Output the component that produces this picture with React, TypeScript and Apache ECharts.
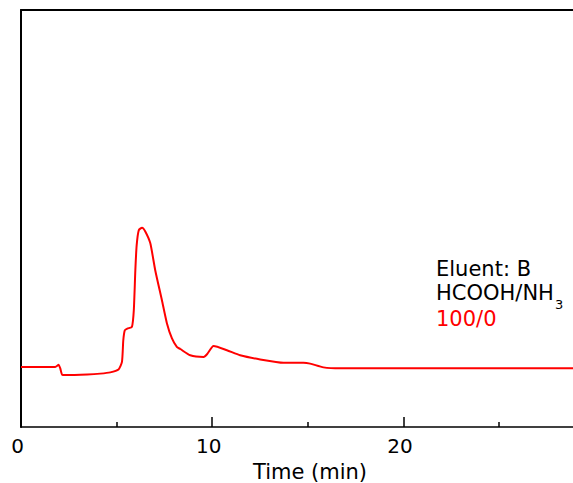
import React, { useEffect, useRef } from "react";
import * as echarts from "echarts";

const times = [0, 1.79, 1.97, 2.05, 2.16, 2.32, 3.47, 4.15, 4.67, 5.1, 5.28, 5.35, 5.43, 5.56, 5.8, 5.9, 5.98, 6.05, 6.16, 6.33, 6.5, 6.76, 7.02, 7.37, 7.63, 7.89, 8.15, 8.33, 8.85, 9.55, 9.74, 10.07, 10.77, 11.46, 12.51, 13.73, 14.77, 15.12, 15.82, 16.69, 19.83, 28.87];
const signal = [14.4, 14.4, 14.9, 14.1, 12.5, 12.46, 12.6, 12.8, 13.1, 13.8, 15.6, 20.8, 23.2, 23.6, 24.0, 28.0, 37.6, 43.6, 47.2, 47.8, 46.9, 44.1, 37.6, 30.4, 24.9, 21.3, 19.2, 18.7, 17.2, 16.8, 17.5, 19.4, 18.4, 17.2, 16.2, 15.4, 15.4, 15.2, 14.3, 14.06, 14.06, 14.06];
const majorTicks = [0, 10, 20];
const minorTicks = [5, 15, 25];
const xMax = 28.87;
const xTitle = "Time (min)";
const legendLines = ["Eluent: B", "HCOOH/NH", "3", "100/0"];

const FONT = "DejaVu Sans";

export default function App() {
  const ref = useRef<HTMLDivElement>(null);
  useEffect(() => {
    if (!ref.current) return;
    const chart = echarts.init(ref.current, null, { renderer: "svg" });
    const data = times.map((t, i) => [t, signal[i]]);
    chart.setOption({
      animation: false,
      backgroundColor: "#fff",
      grid: { left: 21, top: 10, right: 0, bottom: 56, outerBoundsMode: "none" },
      xAxis: [
        {
          type: "value", min: 0, max: xMax, position: "bottom",
          axisLine: { show: true, onZero: false, lineStyle: { color: "#000", width: 1.5 } },
          axisTick: { show: true, inside: true, length: 10, customValues: majorTicks, lineStyle: { color: "#000", width: 1.5 } },
          axisLabel: { show: true, customValues: majorTicks, fontSize: 20, fontFamily: FONT, color: "#000", margin: 9, padding: [0, 7, 0, 0] },
          splitLine: { show: false },
        },
        {
          type: "value", min: 0, max: xMax, position: "bottom",
          axisLine: { show: false, onZero: false },
          axisTick: { show: true, inside: true, length: 5, customValues: minorTicks, lineStyle: { color: "#000", width: 1.5 } },
          axisLabel: { show: false },
          splitLine: { show: false },
        },
        {
          type: "value", min: 0, max: xMax, position: "top",
          axisLine: { show: true, onZero: false, lineStyle: { color: "#000", width: 2 } },
          axisTick: { show: false },
          axisLabel: { show: false },
          splitLine: { show: false },
        },
      ],
      yAxis: {
        type: "value", min: 0, max: 100,
        axisLine: { show: true, onZero: false, lineStyle: { color: "#000", width: 2 } },
        axisTick: { show: false },
        axisLabel: { show: false },
        splitLine: { show: false },
      },
      series: [
        {
          type: "line",
          data,
          showSymbol: false,
          smooth: 0.2,
          lineStyle: { color: "#ff0000", width: 2 },
          itemStyle: { color: "#ff0000" },
        },
      ],
      graphic: [
        { type: "text", x: 310, y: 472, style: { text: xTitle, fontSize: 21, fontFamily: FONT, fill: "#000", align: "center", verticalAlign: "middle" } },
        { type: "text", x: 436, y: 269, style: { text: legendLines[0], fontSize: 21, fontFamily: FONT, fill: "#000", align: "left", verticalAlign: "middle" } },
        { type: "text", x: 436, y: 293, style: { text: legendLines[1], fontSize: 21, fontFamily: FONT, fill: "#000", align: "left", verticalAlign: "middle" } },
        { type: "text", x: 555, y: 304, style: { text: legendLines[2], fontSize: 13, fontFamily: FONT, fill: "#000", align: "left", verticalAlign: "middle" } },
        { type: "text", x: 436, y: 319, style: { text: legendLines[3], fontSize: 21, fontFamily: FONT, fill: "#ff0000", align: "left", verticalAlign: "middle" } },
      ],
    });
    return () => chart.dispose();
  }, []);
  return <div ref={ref} style={{ width: 573, height: 483, position: "absolute", left: 0, top: 0 }} />;
}
